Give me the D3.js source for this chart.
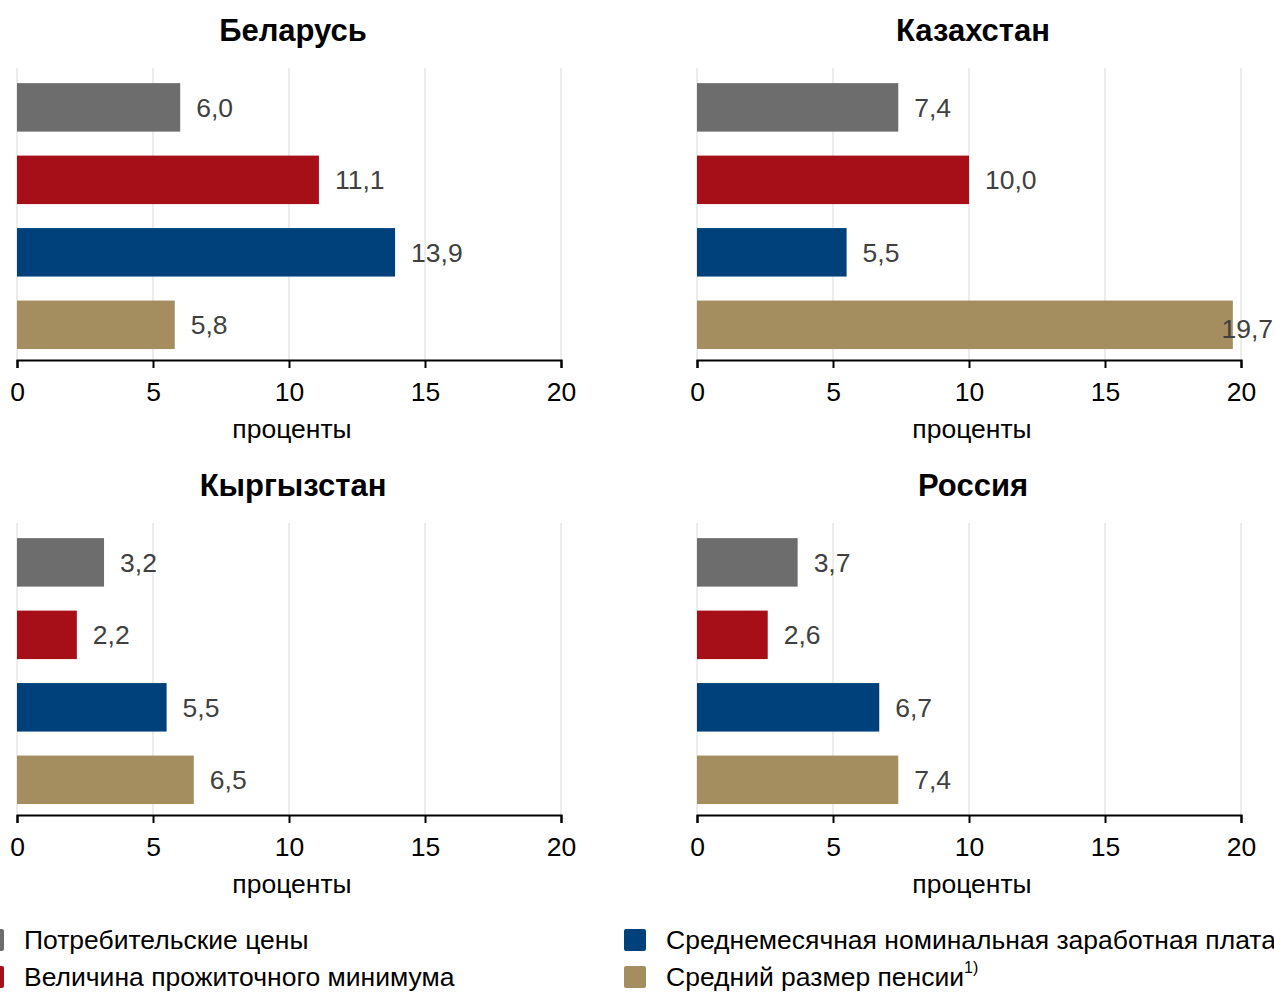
<!DOCTYPE html>
<html>
<head>
<meta charset="utf-8">
<script src="https://cdn.jsdelivr.net/npm/d3@7"></script>
<style>
  body { margin: 0; background: #fff; }
  svg { display: block; font-family: "Liberation Sans", Arial, sans-serif; }
</style>
</head>
<body>
<div id="my_dataviz"></div>
<script>
// data
const countries = ["Беларусь", "Казахстан", "Кыргызстан", "Россия"];
const seriesNames = [
  "Потребительские цены",
  "Величина прожиточного минимума",
  "Среднемесячная номинальная заработная плата",
  "Средний размер пенсии"
];
const seriesColors = ["#6d6d6d", "#a60f17", "#00417c", "#a48e5f"];
const belarus = [6.0, 11.1, 13.9, 5.8];
const kazakhstan = [7.4, 10.0, 5.5, 19.7];
const kyrgyzstan = [3.2, 2.2, 5.5, 6.5];
const russia = [3.7, 2.6, 6.7, 7.4];
const allValues = [belarus, kazakhstan, kyrgyzstan, russia];
const xTicks = [0, 5, 10, 15, 20];
const axisTitle = "проценты";

const W = 1274, H = 992;
const FS = 26.5;
const svg = d3.select("#my_dataviz")
  .append("svg")
  .attr("width", W)
  .attr("height", H);

// panel layout
const panelW = 544, panelH = 292;
const panels = [
  { x: 17, y: 68 },
  { x: 697, y: 68 },
  { x: 17, y: 523 },
  { x: 697, y: 523 }
];

const fmt = v => d3.format(".1f")(v).replace(".", ",");

panels.forEach((p, i) => {
  const g = svg.append("g").attr("transform", `translate(${p.x}, ${p.y})`);
  const data = allValues[i].map((v, k) => ({ s: seriesNames[k], v: v, c: seriesColors[k] }));

  const x = d3.scaleLinear().domain([0, 20]).range([0, panelW]);
  const y = d3.scaleBand()
    .domain(seriesNames)
    .range([0, panelH])
    .paddingInner(0.331)
    .paddingOuter(0.18)
    .align(0.58);

  // gridlines
  g.selectAll(".grid")
    .data(xTicks)
    .join("line")
    .attr("x1", d => x(d)).attr("x2", d => x(d))
    .attr("y1", 0).attr("y2", panelH)
    .attr("stroke", "#d9d9d9")
    .attr("stroke-width", 1);

  // bars
  g.selectAll(".bar")
    .data(data)
    .join("rect")
    .attr("x", x(0))
    .attr("y", d => y(d.s))
    .attr("width", d => x(d.v) - x(0))
    .attr("height", y.bandwidth())
    .attr("fill", d => d.c);

  // value labels
  g.selectAll(".lbl")
    .data(data)
    .join("text")
    .attr("x", d => x(d.v) + 16)
    .attr("y", d => y(d.s) + y.bandwidth() / 2)
    .attr("dy", "0.35em")
    .attr("font-size", FS)
    .attr("fill", "#404040")
    .text(d => fmt(d.v))
    .each(function (d) {
      // keep labels inside the page
      const w = this.getComputedTextLength();
      if (p.x + x(d.v) + 16 + w > W - 1) {
        d3.select(this).attr("x", W - 1 - p.x - w).attr("dy", "0.5em");
      }
    });

  // axis
  const ax = g.append("g")
    .attr("transform", `translate(0, ${panelH})`)
    .call(d3.axisBottom(x).tickValues(xTicks).tickSize(8).tickPadding(14).tickFormat(d3.format("d")));
  ax.select(".domain").attr("stroke", "#000").attr("stroke-width", 2);
  ax.selectAll(".tick line").attr("stroke", "#000").attr("stroke-width", 2);
  ax.selectAll(".tick text")
    .attr("font-size", FS)
    .attr("font-family", "Liberation Sans, Arial, sans-serif")
    .attr("fill", "#000");

  g.append("text")
    .attr("x", panelW / 2 + 3)
    .attr("y", panelH + 69)
    .attr("text-anchor", "middle")
    .attr("dy", "0.35em")
    .attr("font-size", FS)
    .attr("fill", "#000")
    .text(axisTitle);

  // title
  g.append("text")
    .attr("x", panelW / 2 + 4)
    .attr("y", -38)
    .attr("text-anchor", "middle")
    .attr("dy", "0.35em")
    .attr("font-size", 31)
    .attr("font-weight", "bold")
    .attr("fill", "#000")
    .text(countries[i]);
});

// legend
const legendPos = [
  { x: -18, y: 940 },
  { x: -18, y: 977 },
  { x: 624, y: 940 },
  { x: 624, y: 977 }
];
const legend = svg.append("g");
seriesNames.forEach((name, k) => {
  const lp = legendPos[k];
  legend.append("rect")
    .attr("x", lp.x)
    .attr("y", lp.y - 11)
    .attr("width", 22)
    .attr("height", 22)
    .attr("rx", 2)
    .attr("fill", seriesColors[k]);
  const t = legend.append("text")
    .attr("x", lp.x + 42)
    .attr("y", lp.y)
    .attr("dy", "0.35em")
    .attr("font-size", FS)
    .attr("fill", "#000")
    .text(name);
  if (k === 3) {
    t.append("tspan")
      .attr("font-size", 16)
      .attr("dy", "-0.8em")
      .text("1)");
  }
});
</script>
</body>
</html>
